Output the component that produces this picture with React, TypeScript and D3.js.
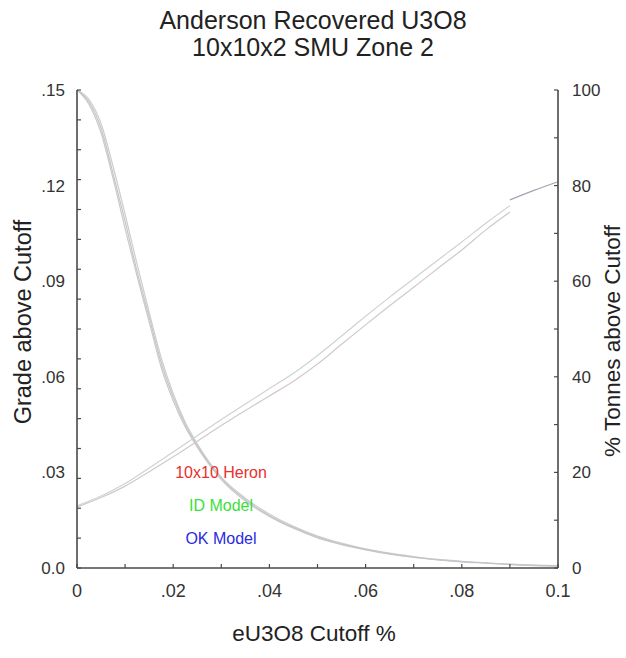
import React from "react";
import * as d3 from "d3";

const cutoffs = [0, 0.0025, 0.005, 0.0075, 0.01, 0.0125, 0.015, 0.0175, 0.02, 0.0225, 0.025, 0.03, 0.035, 0.04, 0.045, 0.05, 0.055, 0.06, 0.065, 0.07, 0.075, 0.08, 0.085, 0.09, 0.095, 0.1];
// % tonnes above cutoff (right axis)
const tonnesHeron = [100, 97, 91, 81.5, 71, 61, 51.5, 42, 35, 29.5, 25.3, 18.5, 14, 10.8, 8.3, 6.3, 4.9, 3.8, 2.9, 2.2, 1.7, 1.3, 1.0, 0.7, 0.5, 0.4];
const tonnesID = [100, 98, 93, 84, 74, 63.5, 53.5, 44, 36.5, 30.5, 26, 19, 14.6, 11.3, 8.7, 6.7, 5.2, 4.0, 3.1, 2.4, 1.8, 1.4, 1.1, 0.8, 0.6, 0.5];
const tonnesOK = [100, 97.5, 92, 82.5, 72.5, 62, 52.5, 43, 35.8, 30, 25.6, 18.8, 14.3, 11, 8.5, 6.5, 5.0, 3.9, 3.0, 2.3, 1.75, 1.35, 1.05, 0.75, 0.55, 0.45];

// grade above cutoff (left axis)
const gradeCutoffs = [0, 0.005, 0.01, 0.015, 0.02, 0.025, 0.03, 0.035, 0.04, 0.045, 0.05, 0.055, 0.06, 0.065, 0.07, 0.075, 0.08, 0.085, 0.09];
const gradeHeron = [0.0191, 0.0221, 0.0257, 0.0302, 0.0349, 0.0398, 0.0447, 0.0494, 0.054, 0.0586, 0.064, 0.0702, 0.0763, 0.0823, 0.0881, 0.094, 0.0998, 0.1061, 0.1117];
const gradeID = [0.0195, 0.0226, 0.0265, 0.0314, 0.0364, 0.0415, 0.0466, 0.0515, 0.0563, 0.0611, 0.0667, 0.0728, 0.079, 0.085, 0.0908, 0.0966, 0.1023, 0.1082, 0.1137];
const gradeOKCutoffs = [0.09, 0.095, 0.1];
const gradeOK = [0.1155, 0.1185, 0.1212];

const leftTickLabels = [".15", ".12", ".09", ".06", ".03", "0.0"];
const leftTickValues = [0.15, 0.12, 0.09, 0.06, 0.03, 0];
const rightTickValues = [100, 80, 60, 40, 20, 0];
const xTickValues = [0, 0.02, 0.04, 0.06, 0.08, 0.1];
const xTickLabels = ["0", ".02", ".04", ".06", ".08", "0.1"];
const legendNames = ["10x10 Heron", "ID Model", "OK Model"];
const legendColors = ["#e8302c", "#3adf3a", "#2a2ae0"];

export default function App() {
  const W = 626, H = 658;
  const x0 = 77, x1 = 558, yTop = 90, yBot = 568;
  const x = d3.scaleLinear().domain([0, 0.1]).range([x0, x1]);
  const yL = d3.scaleLinear().domain([0, 0.15]).range([yBot, yTop]);
  const yR = d3.scaleLinear().domain([0, 100]).range([yBot, yTop]);

  const lineT = d3.line<number>().x((_, i) => x(cutoffs[i])).y((d) => yR(d)).curve(d3.curveMonotoneX);
  const lineG = (xs: number[]) => d3.line<number>().x((_, i) => x(xs[i])).y((d) => yL(d)).curve(d3.curveMonotoneX);

  const axisColor = "#4a4a4a";
  const font = "'Liberation Sans', Arial, Helvetica, sans-serif";
  const leftMinor = d3.range(0, 17).map((i) => (0.15 * i) / 16);
  const rightMinor = d3.range(0, 110, 10);
  const xMinor = d3.range(0, 11).map((i) => i * 0.01);

  return (
    <svg width={W} height={H} style={{ position: "absolute", left: 0, top: 0, background: "#fff" }} fontFamily={font}>
      <rect x={0} y={0} width={W} height={H} fill="#fff" />
      <text x={313} y={29} textAnchor="middle" fontSize={25} fill="#222">Anderson Recovered U3O8</text>
      <text x={313} y={56} textAnchor="middle" fontSize={25} fill="#222">10x10x2 SMU Zone 2</text>

      {/* curves */}
      <g fill="none" strokeWidth={1.2}>
        <path d={lineT(tonnesHeron) || ""} stroke="#d2c6c6" />
        <path d={lineT(tonnesID) || ""} stroke="#c8d0c8" />
        <path d={lineT(tonnesOK) || ""} stroke="#c4c4d0" />
        <path d={lineG(gradeCutoffs)(gradeHeron) || ""} stroke="#d4c8c8" />
        <path d={lineG(gradeCutoffs)(gradeID) || ""} stroke="#ccd4cc" />
        <path d={lineG(gradeOKCutoffs)(gradeOK) || ""} stroke="#a4a4b0" />
      </g>

      {/* axes */}
      <g stroke={axisColor} strokeWidth={1.6}>
        <line x1={x0} y1={yTop} x2={x0} y2={yBot} />
        <line x1={x1} y1={yTop} x2={x1} y2={yBot} />
        <line x1={x0} y1={yBot} x2={x1} y2={yBot} />
      </g>
      <g stroke={axisColor} strokeWidth={1.2}>
        {leftMinor.map((v, i) => (
          <line key={"l" + i} x1={x0} x2={x0 + 4} y1={yL(v)} y2={yL(v)} />
        ))}
        {rightMinor.map((v, i) => (
          <line key={"r" + i} x1={x1} x2={x1 - 4} y1={yR(v)} y2={yR(v)} />
        ))}
        {xMinor.map((v, i) => (
          <line key={"x" + i} x1={x(v)} x2={x(v)} y1={yBot} y2={yBot - 4} />
        ))}
      </g>

      {/* tick labels */}
      <g fill="#333">
        {leftTickValues.map((v, i) => (
          <text key={"lt" + i} x={65} y={yL(v) + 6} textAnchor="end" fontSize={17}>{leftTickLabels[i]}</text>
        ))}
        {rightTickValues.map((v, i) => (
          <text key={"rt" + i} x={572} y={yR(v) + 6} textAnchor="start" fontSize={17}>{String(v)}</text>
        ))}
        {xTickValues.map((v, i) => (
          <text key={"xt" + i} x={x(v)} y={597} textAnchor="middle" fontSize={18}>{xTickLabels[i]}</text>
        ))}
      </g>

      {/* axis titles */}
      <text x={314} y={641} textAnchor="middle" fontSize={22.5} fill="#222">eU3O8 Cutoff %</text>
      <text transform={`translate(31,322) rotate(-90)`} textAnchor="middle" fontSize={23.5} fill="#222">Grade above Cutoff</text>
      <text transform={`translate(620,341) rotate(-90)`} textAnchor="middle" fontSize={22.5} fill="#222">% Tonnes above Cutoff</text>

      {/* legend */}
      <g fontSize={16}>
        {legendNames.map((n, i) => (
          <text key={n} x={221} y={478 + i * 33} textAnchor="middle" fill={legendColors[i]}>{n}</text>
        ))}
      </g>
    </svg>
  );
}
